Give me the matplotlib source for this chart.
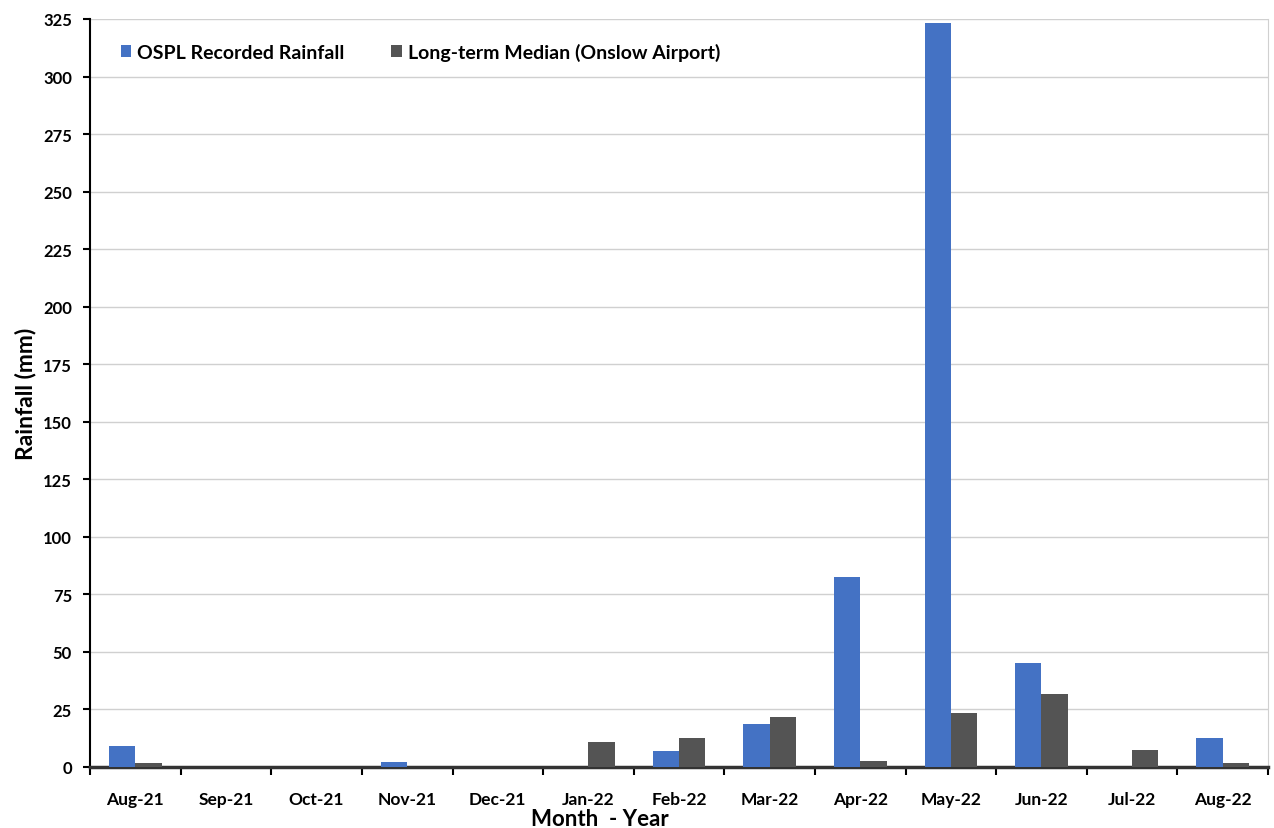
import numpy as np
import matplotlib.pyplot as plt

# Monthly rainfall data
months = ['Aug-21', 'Sep-21', 'Oct-21', 'Nov-21', 'Dec-21', 'Jan-22', 'Feb-22',
          'Mar-22', 'Apr-22', 'May-22', 'Jun-22', 'Jul-22', 'Aug-22']
ospl_rain = [9, 0, 0, 2, 0, 0, 7, 18.7, 82.6, 323.3, 45.2, 0, 12.6]
median_rain = [1.7, 0, 0, 0, 0, 10.9, 12.6, 21.7, 2.6, 23.5, 31.7, 7.4, 1.7]
yticks = list(range(0, 326, 25))

plt.rcParams['font.family'] = ['Lato', 'DejaVu Sans']
plt.rcParams['font.weight'] = 'bold'

fig = plt.figure(figsize=(12.74, 8.29), dpi=100)
ax = fig.add_axes([0.0707, 0.0736, 0.9246, 0.9023])

x = np.arange(len(months))
w = 0.29
ax.bar(x - w / 2, ospl_rain, w, color='#4472C4', label='OSPL Recorded Rainfall', zorder=3)
ax.bar(x + w / 2, median_rain, w, color='#545454', label='Long-term Median (Onslow Airport)', zorder=3)

ax.set_xlim(-0.5, len(months) - 0.5)
ax.set_ylim(0, 325)
ax.set_yticks(yticks)
ax.set_yticklabels([str(v) for v in yticks], fontsize=12, fontweight='bold')
ax.set_xticks(x)
ax.set_xticklabels(months, fontsize=12.5, fontweight='bold')
ax.tick_params(axis='x', length=0, pad=17)
ax.set_xticks(np.arange(-0.5, len(months)), minor=True)
ax.tick_params(axis='x', which='minor', length=6, width=1.5, direction='out')
ax.tick_params(axis='y', length=5, width=1.5, direction='out', pad=8)

ax.grid(axis='y', color='#d0d0d0', linewidth=1, zorder=0)
ax.spines['top'].set_visible(False)
ax.spines['right'].set_color('#d0d0d0')
ax.spines['left'].set_linewidth(1.5)
ax.spines['bottom'].set_linewidth(2.5)
ax.spines['bottom'].set_color('#333333')

ax.set_xlabel('Month  - Year', fontsize=16, fontweight='bold')
ax.xaxis.set_label_coords(0.433, -0.055)
ax.set_ylabel('Rainfall (mm)', fontsize=16.5, fontweight='bold')
ax.yaxis.set_label_coords(-0.046, 0.5)

ax.legend(loc='upper left', bbox_to_anchor=(0.011, 0.992), ncol=2, frameon=False,
          fontsize=14, handlelength=0.55, handleheight=0.55, handletextpad=0.3,
          columnspacing=2.4)

fig.savefig('out.png', dpi=100)
